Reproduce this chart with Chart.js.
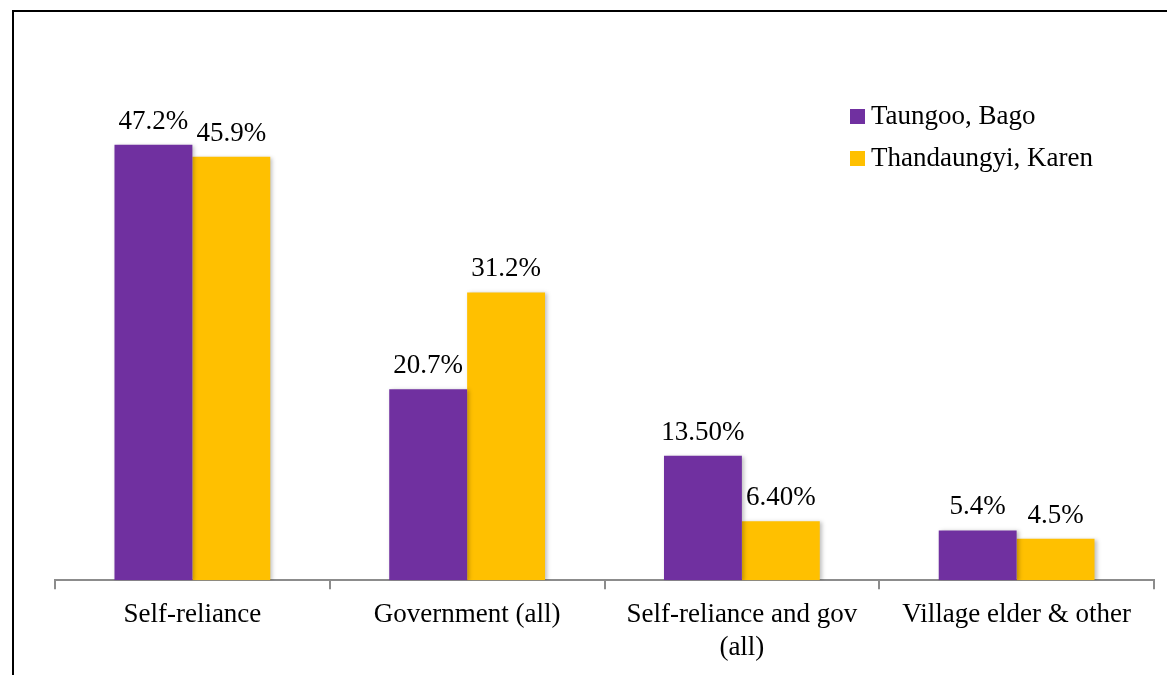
<!DOCTYPE html>
<html>
<head>
<meta charset="utf-8">
<script src="https://cdn.jsdelivr.net/npm/chart.js@4"></script>
<style>
  html, body { margin: 0; padding: 0; background: #fff; }
  #wrap { position: relative; width: 1167px; height: 675px; overflow: hidden; }
  #frame { position: absolute; left: 12px; top: 10px; width: 1200px; height: 700px;
           border-left: 2px solid #000; border-top: 2px solid #000; }
  canvas { position: absolute; left: 0; top: 0; }
</style>
</head>
<body>
<div id="wrap">
  <div id="frame"></div>
  <canvas id="chart" width="1167" height="675"></canvas>
</div>
<script>
// data
let categories = ["Self-reliance", "Government (all)", ["Self-reliance and gov", "(all)"], "Village elder & other"];
let seriesNames = ["Taungoo, Bago", "Thandaungyi, Karen"];
let taungoo = [47.2, 20.7, 13.5, 5.4];
let thandaungyi = [45.9, 31.2, 6.4, 4.5];
let taungooLabels = ["47.2%", "20.7%", "13.50%", "5.4%"];
let thandaungyiLabels = ["45.9%", "31.2%", "6.40%", "4.5%"];
let colors = ["#7030A0", "#FFC000"];

const FONT = "'Liberation Serif', 'DejaVu Serif', serif";

// bar shadows
const shadowPlugin = {
    id: "shadow",
    beforeDatasetDraw(chart) {
        let ctx = chart.ctx;
        ctx.save();
        ctx.shadowColor = "rgba(0,0,0,0.25)";
        ctx.shadowBlur = 4;
        ctx.shadowOffsetX = 2;
        ctx.shadowOffsetY = 1;
    },
    afterDatasetDraw(chart) {
        chart.ctx.restore();
    }
};

// value labels above bars
const valueLabels = {
    id: "valueLabels",
    afterDatasetsDraw(chart) {
        let ctx = chart.ctx;
        let allLabels = [taungooLabels, thandaungyiLabels];
        ctx.save();
        ctx.font = "27px " + FONT;
        ctx.fillStyle = "#000";
        ctx.textAlign = "center";
        ctx.textBaseline = "alphabetic";
        chart.data.datasets.forEach((ds, i) => {
            chart.getDatasetMeta(i).data.forEach((bar, j) => {
                ctx.fillText(allLabels[i][j], bar.x, bar.y - 16);
            });
        });
        ctx.restore();
    }
};

// legend drawn in the upper right
const sideLegend = {
    id: "sideLegend",
    afterDraw(chart) {
        let ctx = chart.ctx;
        ctx.save();
        ctx.font = "27px " + FONT;
        ctx.textBaseline = "middle";
        chart.data.datasets.forEach((ds, i) => {
            let y = 116 + i * 42;
            ctx.fillStyle = ds.backgroundColor;
            ctx.fillRect(850, y - 7, 15, 15);
            ctx.fillStyle = "#000";
            ctx.fillText(ds.label, 871, y + 1);
        });
        ctx.restore();
    }
};

let ctx = document.getElementById("chart").getContext("2d");

let chart = new Chart(ctx, {
    type: "bar",
    data: {
        labels: categories,
        datasets: [{
            label: seriesNames[0],
            data: taungoo,
            backgroundColor: colors[0]
        }, {
            label: seriesNames[1],
            data: thandaungyi,
            backgroundColor: colors[1]
        }]
    },
    options: {
        responsive: false,
        animation: false,
        categoryPercentage: 0.567,
        barPercentage: 1,
        layout: { padding: { left: 55, right: 13, top: 119, bottom: 1 } },
        plugins: {
            legend: { display: false },
            tooltip: { enabled: false }
        },
        scales: {
            x: {
                grid: { offset: true, drawOnChartArea: false, tickLength: 9, color: "#8c8c8c", lineWidth: 2 },
                border: { color: "#8c8c8c", width: 2 },
                ticks: { color: "#000", font: { family: FONT, size: 27, lineHeight: 1.2 }, padding: 10, maxRotation: 0, autoSkip: false }
            },
            y: { display: false, min: 0, max: 50 }
        }
    },
    plugins: [shadowPlugin, valueLabels, sideLegend]
});
</script>
</body>
</html>
